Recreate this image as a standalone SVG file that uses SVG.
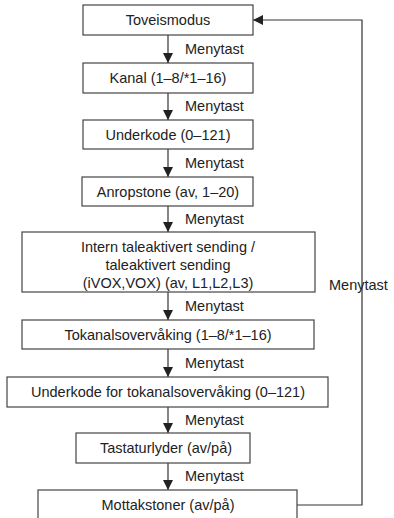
<svg xmlns="http://www.w3.org/2000/svg" width="394" height="518" viewBox="0 0 394 518">
<defs>
<style>
.box{fill:#fff;stroke:#444;stroke-width:1.2}
.t{font-family:"Liberation Sans",Arial,sans-serif;font-size:14.5px;fill:#222;text-anchor:middle}
.l{font-family:"Liberation Sans",Arial,sans-serif;font-size:14.5px;fill:#222}
.c{fill:none;stroke:#333;stroke-width:1.2}
</style>
<marker id="ah" viewBox="0 0 10 10" refX="10" refY="5" markerWidth="10" markerHeight="10" markerUnits="userSpaceOnUse" orient="auto">
<path d="M0,0 L10,5 L0,10 z" fill="#222"/>
</marker>
</defs>
<rect width="394" height="518" fill="#fff"/>
<g id="connectors">
<line class="c" x1="168" y1="35" x2="168" y2="63" marker-end="url(#ah)"/>
<line class="c" x1="168" y1="93" x2="168" y2="120" marker-end="url(#ah)"/>
<line class="c" x1="168" y1="149" x2="168" y2="177" marker-end="url(#ah)"/>
<line class="c" x1="168" y1="206" x2="168" y2="232" marker-end="url(#ah)"/>
<line class="c" x1="168" y1="292" x2="168" y2="320" marker-end="url(#ah)"/>
<line class="c" x1="168" y1="349" x2="168" y2="377" marker-end="url(#ah)"/>
<line class="c" x1="168" y1="407" x2="168" y2="433" marker-end="url(#ah)"/>
<line class="c" x1="168" y1="463" x2="168" y2="490" marker-end="url(#ah)"/>
<polyline class="c" points="297,505 362,505 362,20 253,20" marker-end="url(#ah)"/>
<text class="l" x="185" y="54">Menytast</text>
<text class="l" x="185" y="111">Menytast</text>
<text class="l" x="185" y="168">Menytast</text>
<text class="l" x="185" y="224">Menytast</text>
<text class="l" x="185" y="311">Menytast</text>
<text class="l" x="185" y="368">Menytast</text>
<text class="l" x="185" y="425">Menytast</text>
<text class="l" x="185" y="481">Menytast</text>
<text class="l" x="329" y="290">Menytast</text>
</g>
<g id="n1"><rect class="box" x="83" y="5" width="170" height="30"/><text class="t" x="168" y="25">Toveismodus</text></g>
<g id="n2"><rect class="box" x="83" y="63" width="170" height="30"/><text class="t" x="168" y="83">Kanal (1–8/*1–16)</text></g>
<g id="n3"><rect class="box" x="83" y="120" width="170" height="29"/><text class="t" x="168" y="140">Underkode (0–121)</text></g>
<g id="n4"><rect class="box" x="82" y="177" width="171" height="29"/><text class="t" x="168" y="197">Anropstone (av, 1–20)</text></g>
<g id="n5"><rect class="box" x="22" y="232" width="293" height="60"/><text class="t" x="168" y="252">Intern taleaktivert sending /</text><text class="t" x="168" y="270">taleaktivert sending</text><text class="t" x="168" y="288">(iVOX,VOX) (av, L1,L2,L3)</text></g>
<g id="n6"><rect class="box" x="22" y="320" width="292" height="29"/><text class="t" x="168" y="340">Tokanalsovervåking (1–8/*1–16)</text></g>
<g id="n7"><rect class="box" x="7" y="377" width="321" height="30"/><text class="t" x="168" y="397">Underkode for tokanalsovervåking (0–121)</text></g>
<g id="n8"><rect class="box" x="76" y="433" width="174" height="30"/><text class="t" x="166" y="453">Tastaturlyder (av/på)</text></g>
<g id="n9"><rect class="box" x="38" y="490" width="259" height="40"/><text class="t" x="168" y="510">Mottakstoner (av/på)</text></g>
</svg>
